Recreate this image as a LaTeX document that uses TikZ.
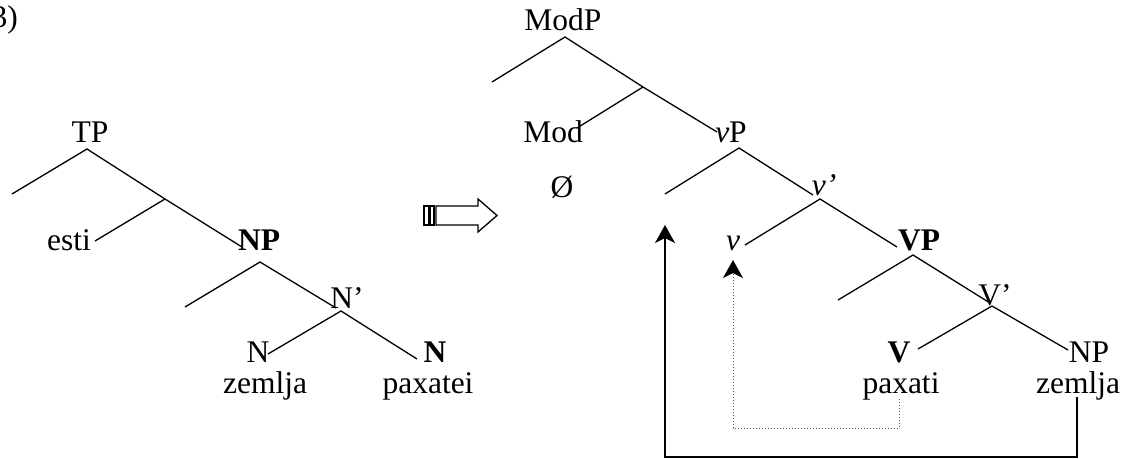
\documentclass[tikz,border=0pt]{standalone}
\usepackage{fontspec}
\setmainfont{Liberation Serif}
\usetikzlibrary{arrows.meta}
\tikzset{
  lbl/.style={anchor=base, inner sep=0pt, font=\fontsize{31.5}{36}\selectfont},
  branch/.style={line width=1.3pt},
  move/.style={line width=1.2pt, -{Stealth[length=18pt,width=20pt,inset=5pt]}},
  movedot/.style={line width=1pt, dotted, gray!70!black, -{Stealth[length=18pt,width=20pt,inset=5pt,color=black]}},
  bigarrow/.style={line width=1.3pt, draw=black, fill=white}
}
\begin{document}
\begin{tikzpicture}[x=1pt,y=-1pt]
\useasboundingbox (0,0) rectangle (1127,458);

% example number
\node[lbl, anchor=base east] (num) at (18,27) {3)};

% ---------- left tree ----------
\node[lbl] (TP) at (90,142) {TP};
\node[lbl] (esti) at (69,250) {esti};
\node[lbl] (NPl) at (259,250) {\textbf{NP}};
\node[lbl] (Nbar) at (347,308) {N’};
\node[lbl] (N1) at (258,362) {N};
\node[lbl] (N2) at (435,362) {\textbf{N}};
\node[lbl] (zem1) at (265,393) {zemlja};
\node[lbl] (pax1) at (428,393) {paxatei};

\coordinate (TPa) at (87,149);
\coordinate (TPspec) at (12,194);
\coordinate (Tbar) at (165,199);
\coordinate (estiE) at (95,241);
\coordinate (NPlE) at (242,247);
\coordinate (NPa) at (260,262);
\coordinate (NPspec) at (185,307);
\coordinate (NbarE) at (336,308);
\coordinate (Nba) at (341,311);
\coordinate (N1E) at (268,354);
\coordinate (N2E) at (417,359);

\draw[branch] (TPspec) -- (TPa) -- (Tbar) -- (NPlE);
\draw[branch] (Tbar) -- (estiE);
\draw[branch] (NPspec) -- (NPa) -- (NbarE);
\draw[branch] (N1E) -- (Nba) -- (N2E);

% ---------- derivation arrow ----------
\draw[bigarrow] (436,206) -- (478,206) -- (478,199) -- (497,215.5) -- (478,232) -- (478,225) -- (436,225) -- cycle;
\draw[bigarrow] (424,206) rectangle (428.5,225);
\draw[bigarrow] (430,206) rectangle (434,225);

% ---------- right tree ----------
\node[lbl] (ModP) at (563,30) {ModP};
\node[lbl] (Mod) at (553,142) {Mod};
\node[lbl] (vP) at (731,142) {\textit{v}P};
\node[lbl] (empty) at (562,197) {Ø};
\node[lbl] (vbar) at (824,195) {\textit{v’}};
\node[lbl] (vhead) at (733,250) {\textit{v}};
\node[lbl] (VP) at (919,250) {\textbf{VP}};
\node[lbl] (Vbar) at (995,305) {V’};
\node[lbl] (V) at (899,362) {\textbf{V}};
\node[lbl] (NPr) at (1089,362) {NP};
\node[lbl] (pax2) at (901,393) {paxati};
\node[lbl] (zem2) at (1078,393) {zemlja};

\coordinate (MPa) at (565,37);
\coordinate (MPspec) at (492,82);
\coordinate (Modbar) at (643,87);
\coordinate (ModE) at (577,128);
\coordinate (vPE) at (717,132);
\coordinate (vPa) at (739,148);
\coordinate (vPspec) at (665,194);
\coordinate (vbarE) at (813,195);
\coordinate (vba) at (820,199);
\coordinate (vE) at (745,245);
\coordinate (VPE) at (897,247);
\coordinate (VPa) at (913,255);
\coordinate (VPspec) at (838,300);
\coordinate (VbarE) at (990,303);
\coordinate (Vba) at (992,306);
\coordinate (VE) at (918,349);
\coordinate (NPrE) at (1068,350);

\draw[branch] (MPspec) -- (MPa) -- (Modbar) -- (vPE);
\draw[branch] (Modbar) -- (ModE);
\draw[branch] (vPspec) -- (vPa) -- (vbarE);
\draw[branch] (vE) -- (vba) -- (VPE);
\draw[branch] (VPspec) -- (VPa) -- (VbarE);
\draw[branch] (VE) -- (Vba) -- (NPrE);

% ---------- movement ----------
\coordinate (zemFoot) at (1077,397);
\coordinate (zemLow) at (1077,457);
\coordinate (specLow) at (665,457);
\coordinate (specTop) at (665,225);
\draw[move] (zemFoot) -- (zemLow) -- (specLow) -- (specTop);

\coordinate (paxFoot) at (899,399);
\coordinate (paxLow) at (899,428);
\coordinate (vLow) at (733,428);
\coordinate (vTop) at (733,260);
\draw[movedot] (paxFoot) -- (paxLow) -- (vLow) -- (vTop);
\end{tikzpicture}
\end{document}
